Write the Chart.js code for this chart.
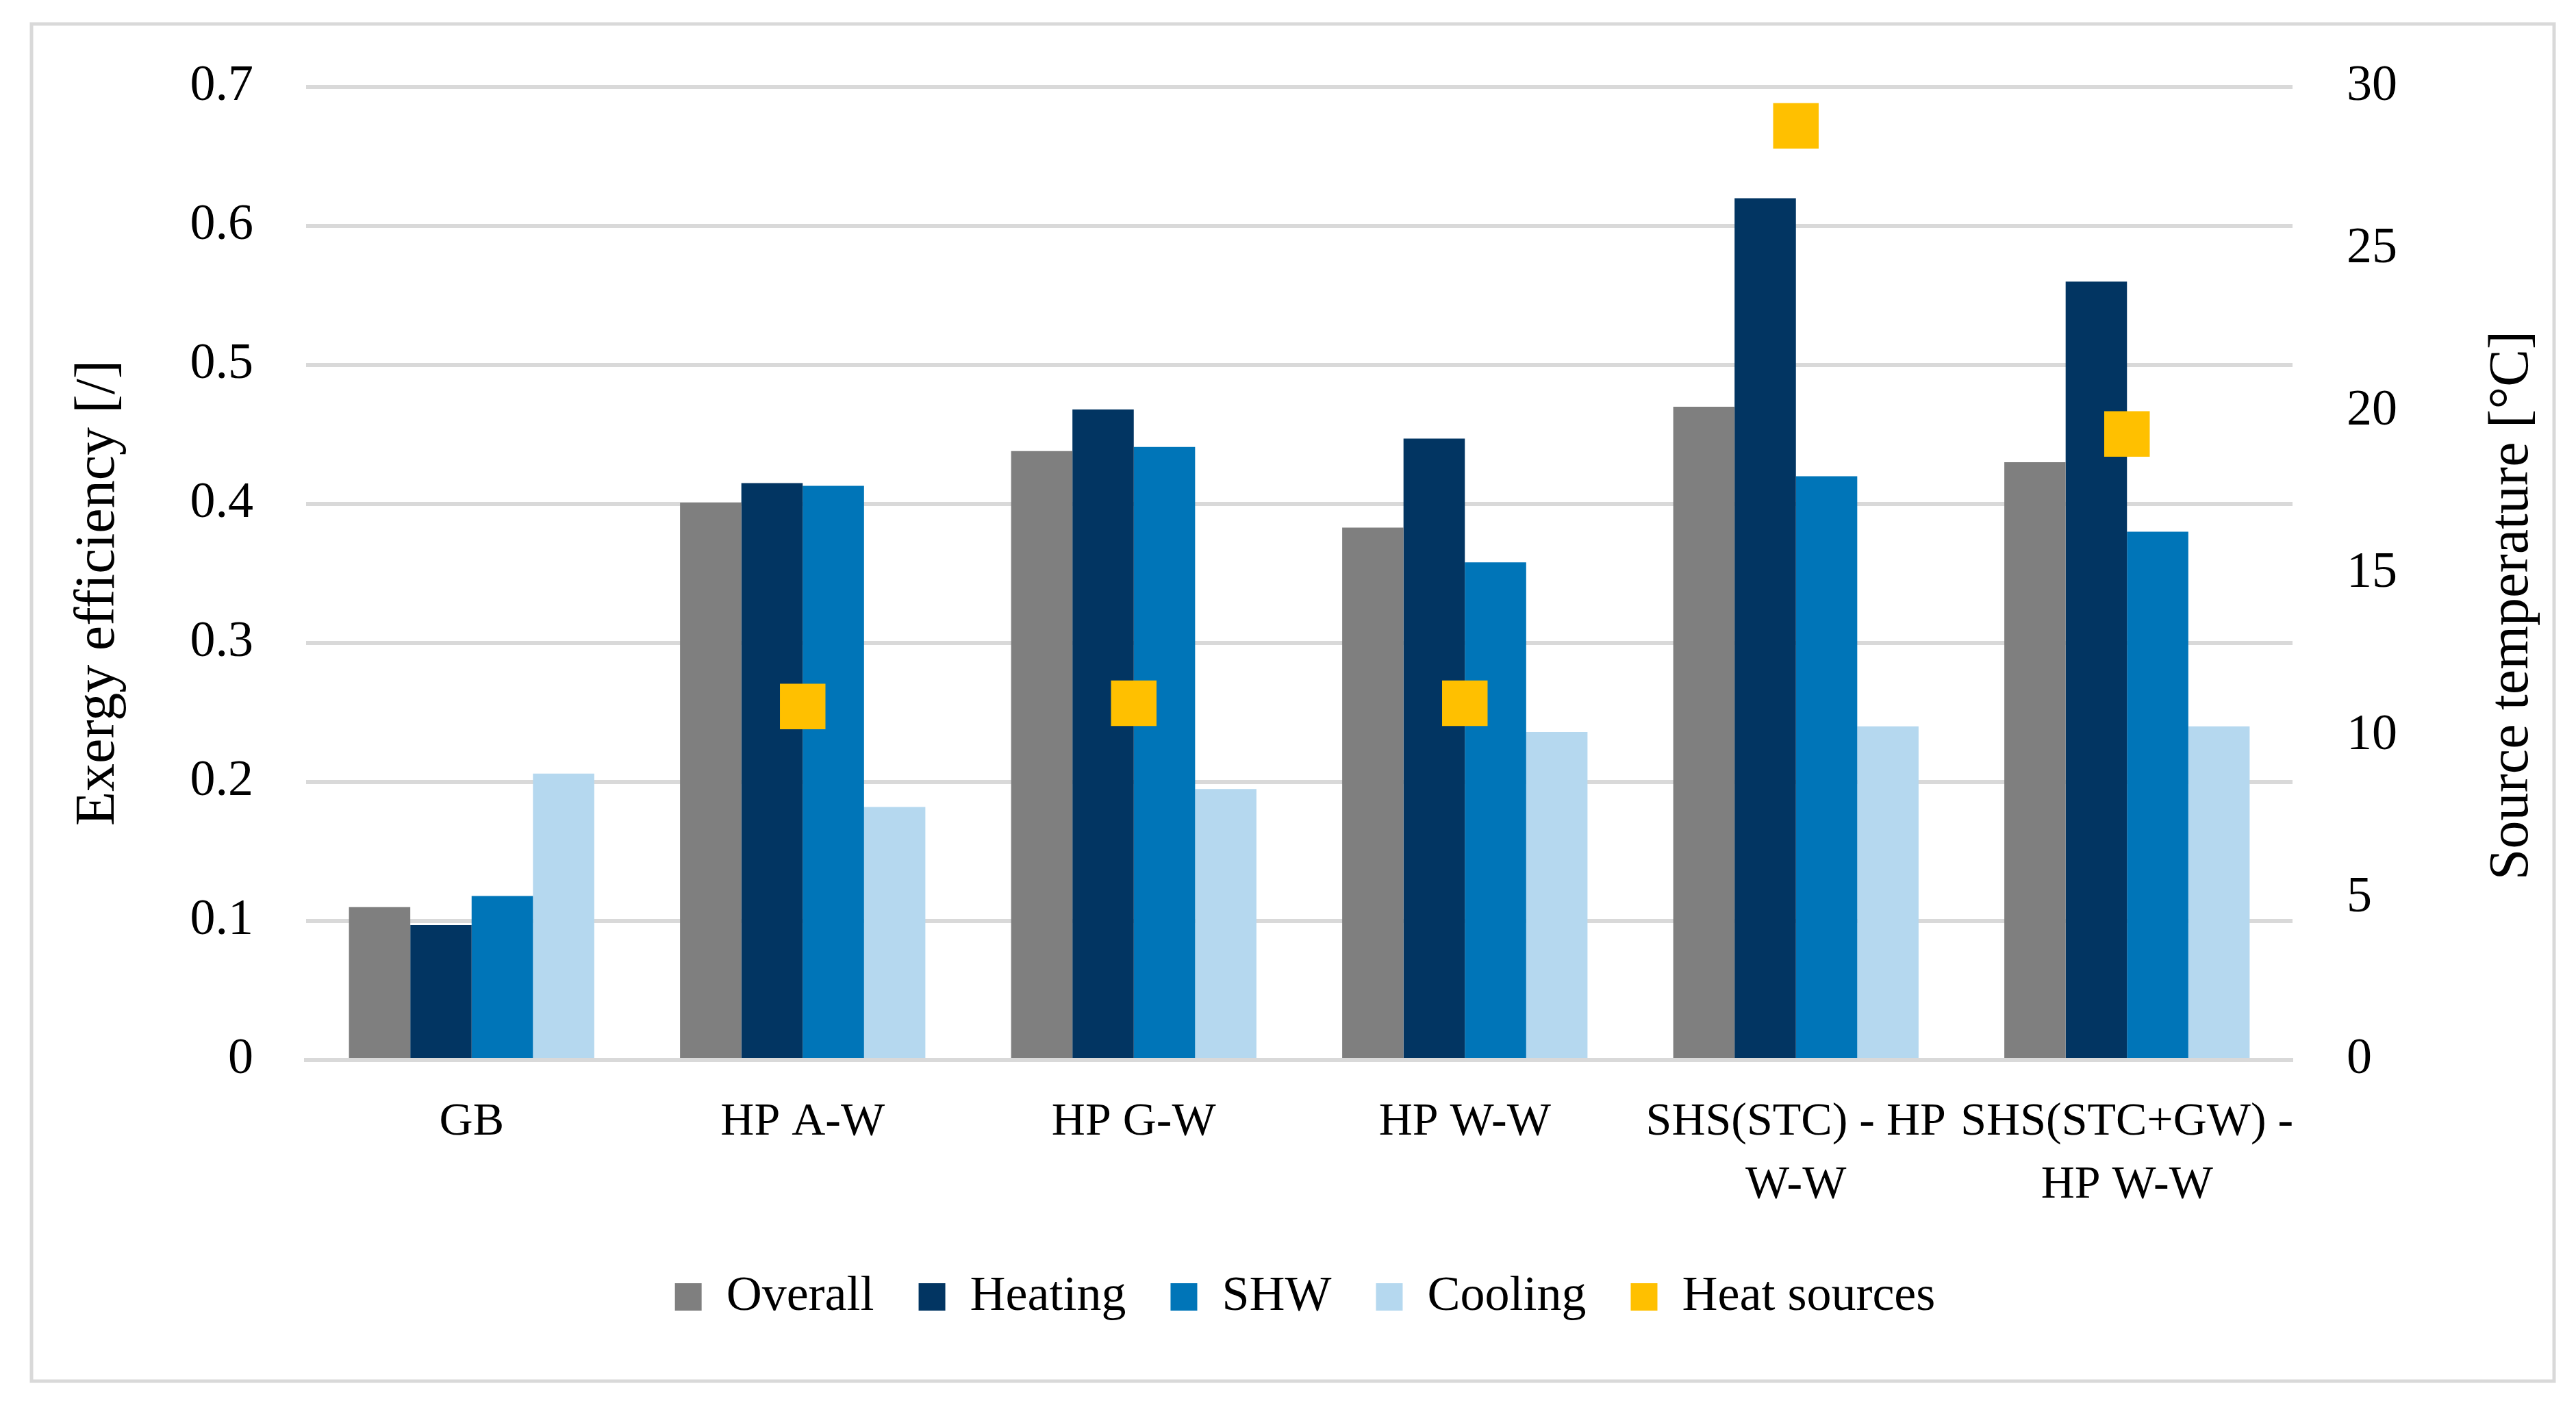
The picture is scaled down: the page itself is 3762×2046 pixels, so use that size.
<!DOCTYPE html>
<html>
<head>
<meta charset="utf-8">
<script src="https://cdn.jsdelivr.net/npm/chart.js@4.4.1/dist/chart.umd.min.js"></script>
<style>
html,body{margin:0;padding:0;background:#fff;overflow:hidden}
#wrap{position:relative;width:3762px;height:2046px}
</style>
</head>
<body>
<div id="wrap"><canvas id="c"></canvas></div>
<script>
// ---- data ----
const categories = ['GB', 'HP A-W', 'HP G-W', 'HP W-W', ['SHS(STC) - HP', 'W-W'], ['SHS(STC+GW) -', 'HP W-W']];
const overall  = [0.110, 0.401, 0.438, 0.383, 0.470, 0.430];
const heating  = [0.097, 0.415, 0.468, 0.447, 0.620, 0.560];
const shw      = [0.118, 0.413, 0.441, 0.358, 0.420, 0.380];
const cooling  = [0.206, 0.182, 0.195, 0.236, 0.240, 0.240];
const heatSources = [null, 10.9, 11.0, 11.0, 28.8, 19.3];
const seriesNames = ['Overall', 'Heating', 'SHW', 'Cooling', 'Heat sources'];
const leftTickLabels  = ['0', '0.1', '0.2', '0.3', '0.4', '0.5', '0.6', '0.7'];
const rightTickLabels = ['0', '5', '10', '15', '20', '25', '30'];
const leftTitle  = 'Exergy efficiency [/]';
const rightTitle = 'Source temperature [°C]';

// ---- style ----
const colors = ['#7f7f7f', '#023562', '#0075b8', '#b5d8ef', '#ffc000'];
const FONT = '"Liberation Serif", "Times New Roman", serif';
const gridColor = '#d9d9d9';

const framePlugin = {
  id: 'frame',
  beforeDraw(chart) {
    const ctx = chart.ctx;
    ctx.save();
    ctx.fillStyle = '#ffffff';
    ctx.fillRect(0, 0, chart.width, chart.height);
    ctx.strokeStyle = gridColor;
    ctx.lineWidth = 5;
    ctx.strokeRect(46, 35, 3684, 1982);
    ctx.restore();
  },
  afterDraw(chart) {
    const ctx = chart.ctx;
    const drawTitle = (text, x, y) => {
      ctx.save();
      ctx.fillStyle = '#000';
      ctx.font = '82px ' + FONT;
      ctx.textAlign = 'center';
      ctx.textBaseline = 'middle';
      ctx.translate(x, y);
      ctx.rotate(-Math.PI / 2);
      ctx.fillText(text, 0, 0);
      ctx.restore();
    };
    drawTitle(leftTitle, 144, 866);
    drawTitle(rightTitle, 3669, 884);
  }
};

const barSeries = [overall, heating, shw, cooling];
const datasets = barSeries.map((vals, i) => ({
  type: 'bar',
  label: seriesNames[i],
  data: vals,
  backgroundColor: colors[i],
  borderColor: colors[i],
  borderWidth: 0,
  yAxisID: 'y',
  categoryPercentage: 0.741,
  barPercentage: 1.0
}));
datasets.push({
  type: 'line',
  label: seriesNames[4],
  data: heatSources,
  yAxisID: 'y1',
  showLine: false,
  backgroundColor: colors[4],
  borderColor: colors[4],
  borderWidth: 0,
  pointStyle: 'rect',
  pointRadius: 47,
  pointHoverRadius: 47,
  pointBorderWidth: 0,
  order: -1
});

new Chart(document.getElementById('c'), {
  data: { labels: categories, datasets },
  plugins: [framePlugin],
  options: {
    responsive: true,
    maintainAspectRatio: false,
    devicePixelRatio: 1,
    animation: false,
    layout: { padding: { left: 50, right: 0, top: 127, bottom: 106 } },
    plugins: {
      tooltip: { enabled: false },
      legend: {
        position: 'bottom',
        labels: {
          sort: (a, b) => a.datasetIndex - b.datasetIndex,
          font: { family: FONT, size: 72 },
          color: '#000',
          boxWidth: 39,
          boxHeight: 40,
          padding: 65
        }
      }
    },
    scales: {
      x: {
        z: 1,
        grid: { display: false, drawTicks: false },
        border: { display: true, color: gridColor, width: 6 },
        ticks: {
          font: { family: FONT, size: 68, lineHeight: 1.34 },
          color: '#000',
          padding: 46,
          maxRotation: 0,
          minRotation: 0,
          autoSkip: false
        },
        afterFit(scale) { scale.height = 245; }
      },
      y: {
        position: 'left',
        min: 0,
        max: 0.7,
        grid: { color: gridColor, lineWidth: 6, drawTicks: false },
        border: { display: false },
        ticks: {
          stepSize: 0.1,
          font: { family: FONT, size: 74 },
          color: '#000',
          padding: 77,
          callback: (v, i) => leftTickLabels[i]
        },
        afterFit(scale) { scale.width = 397; }
      },
      y1: {
        position: 'right',
        min: 0,
        max: 30,
        grid: { display: false, drawOnChartArea: false, drawTicks: false },
        border: { display: false },
        ticks: {
          stepSize: 5,
          font: { family: FONT, size: 74 },
          color: '#000',
          padding: 79,
          callback: (v, i) => rightTickLabels[i]
        },
        afterFit(scale) { scale.width = 414; }
      }
    }
  }
});
</script>
</body>
</html>
